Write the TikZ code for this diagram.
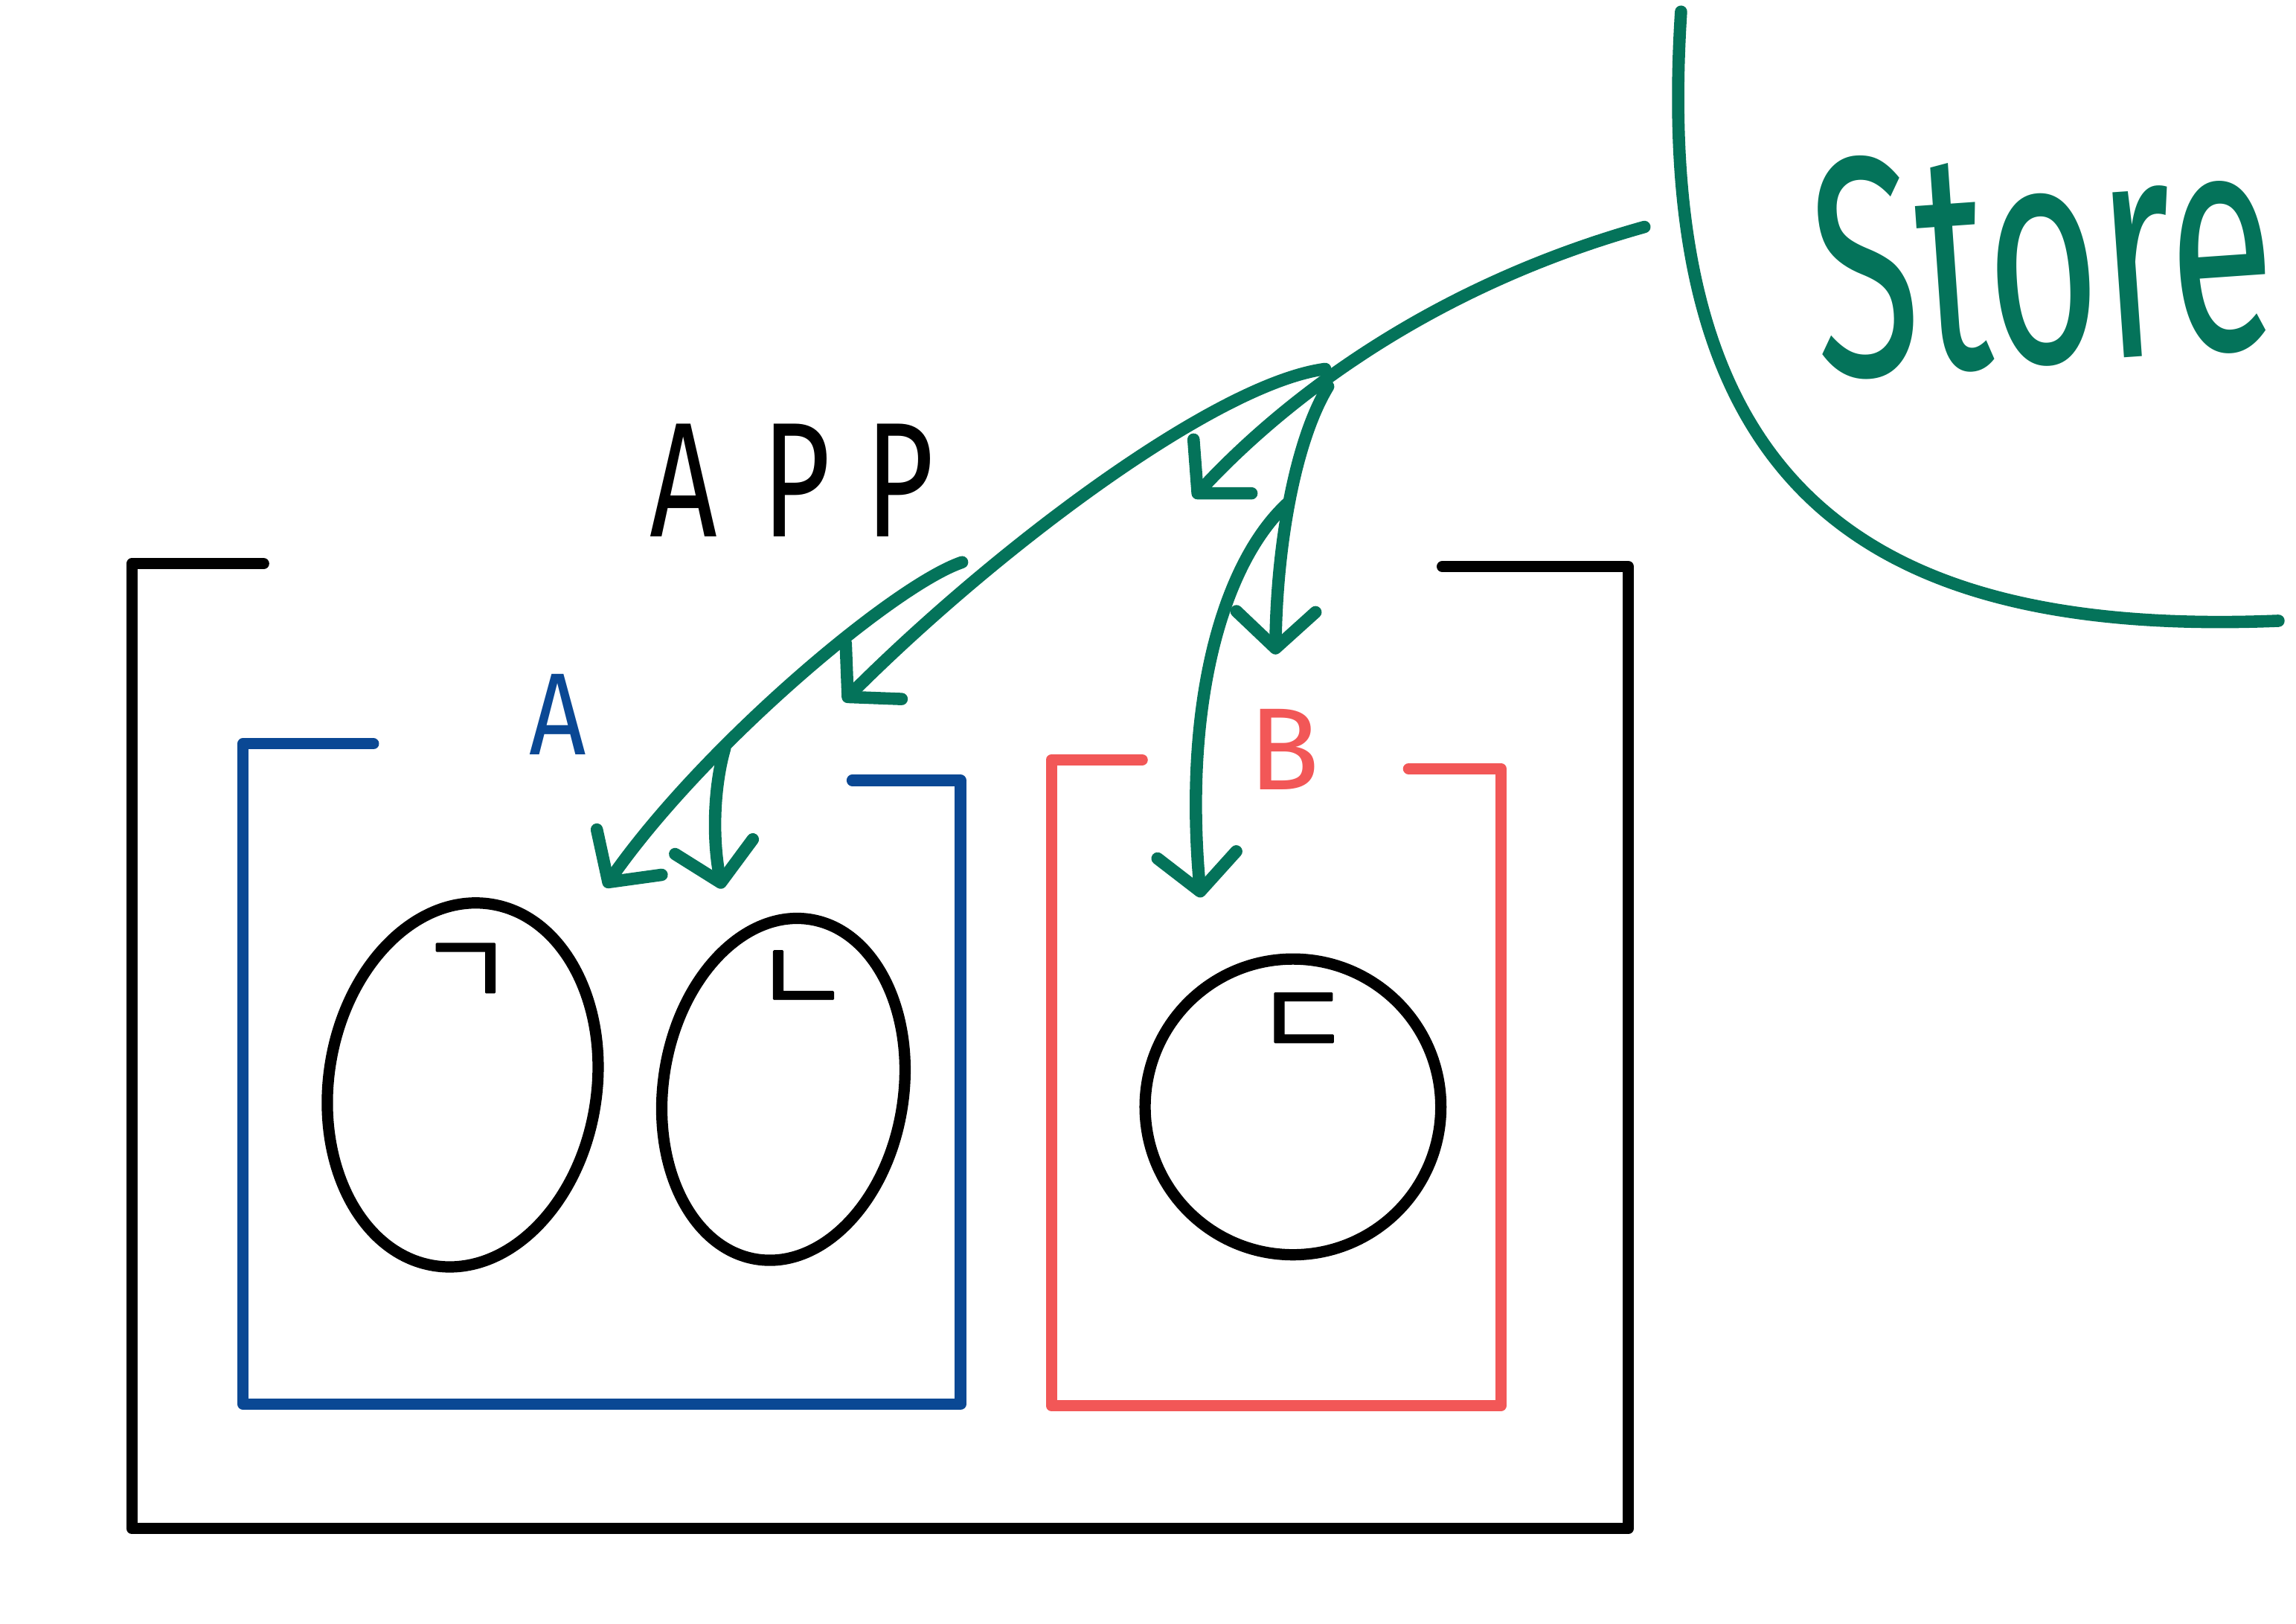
\documentclass[tikz,border=0pt]{standalone}
\usepackage{fontspec}
\setmainfont{Fira Sans}
\newfontfamily\kr{Noto Sans CJK KR}[FakeBold=2]
\usetikzlibrary{arrows.meta,shapes.geometric}
\definecolor{storegreen}{HTML}{04735A}
\definecolor{ablue}{HTML}{0A4894}
\definecolor{bred}{HTML}{F25757}

\begin{document}
\begin{tikzpicture}[line width=2.2pt, line cap=round, line join=round,
  pen/.style={draw=storegreen, line width=2.4pt},
  arr/.style={pen, -{Straight Barb[length=2.5mm,width=5.4mm,round]}},
  blob/.style={draw, ellipse, inner sep=0pt, rotate=-9},
  jamo/.style={font=\kr\fontsize{20}{20}\selectfont}]
\useasboundingbox (0,0) rectangle (15.68,-11.09);

\draw (1.80,-3.85) -- (0.90,-3.85) -- (0.90,-10.44) -- (11.12,-10.44) -- (11.12,-3.87) -- (9.85,-3.87);
\draw[ablue] (2.55,-5.08) -- (1.66,-5.08) -- (1.66,-9.59) -- (6.56,-9.59) -- (6.56,-5.33) -- (5.82,-5.33);
\draw[bred] (7.80,-5.19) -- (7.18,-5.19) -- (7.18,-9.60) -- (10.25,-9.60) -- (10.25,-5.25) -- (9.62,-5.25);

\node (app) at (5.41,-3.28) {\scalebox{0.72}[1]{\fontsize{31.8}{32}\selectfont A\kern0.38em P\kern0.3em P}};
\node[ablue] (la) at (3.81,-4.88) {\scalebox{0.85}[1]{\fontsize{22.7}{23}\selectfont A}};
\node[bred] (lb) at (8.77,-5.12) {\fontsize{22.7}{23}\selectfont B};
\node[storegreen, rotate=4] (store) at (13.95,-1.74) {\scalebox{0.62}[1]{\fontsize{61}{61}\selectfont Store}};

\node[blob, minimum width=1.83cm, minimum height=2.50cm] (e1) at (3.16,-7.41) {};
\node[blob, minimum width=1.64cm, minimum height=2.35cm] (e2) at (5.35,-7.44) {};
\node[draw, circle, minimum size=2.02cm, inner sep=0pt] (e3) at (8.83,-7.56) {};
\node[jamo] (k1) at (3.18,-6.66) {ㄱ};
\node[jamo] (k2) at (5.48,-6.71) {ㄴ};
\node[jamo] (k3) at (8.90,-7.00) {ㄷ};

% green strokes
\coordinate (wallTop) at (11.48,-0.08);
\coordinate (wallEnd) at (15.56,-4.24);
\coordinate (out) at (11.23,-1.55);
\coordinate (outTip) at (8.15,-3.40);
\coordinate (apex) at (9.05,-2.52);
\coordinate (arcTip) at (5.76,-4.79);
\coordinate (aStart) at (6.57,-3.84);
\coordinate (aTip) at (4.13,-6.06);
\coordinate (aSplit) at (4.95,-5.11);
\coordinate (aTip2) at (4.93,-6.07);
\coordinate (bStart) at (9.07,-2.64);
\coordinate (bTip) at (8.71,-4.47);
\coordinate (bSplit) at (8.79,-3.44);
\coordinate (bTip2) at (8.20,-6.13);

\draw[pen] (wallTop) .. controls (11.28,-3.20) and (12.60,-4.36) .. (wallEnd);
\draw[arr] (out) .. controls (9.80,-1.95) and (8.80,-2.70) .. (outTip);
\draw[arr] (apex) .. controls (8.30,-2.62) and (6.80,-3.75) .. (arcTip);
\draw[arr] (aStart) .. controls (6.10,-4.00) and (4.80,-5.10) .. (aTip);
\draw[arr] (aSplit) .. controls (4.88,-5.35) and (4.86,-5.70) .. (aTip2);
\draw[arr] (bStart) .. controls (8.85,-3.00) and (8.72,-3.70) .. (bTip);
\draw[arr] (bSplit) .. controls (8.35,-3.85) and (8.08,-4.80) .. (bTip2);
\end{tikzpicture}
\end{document}
